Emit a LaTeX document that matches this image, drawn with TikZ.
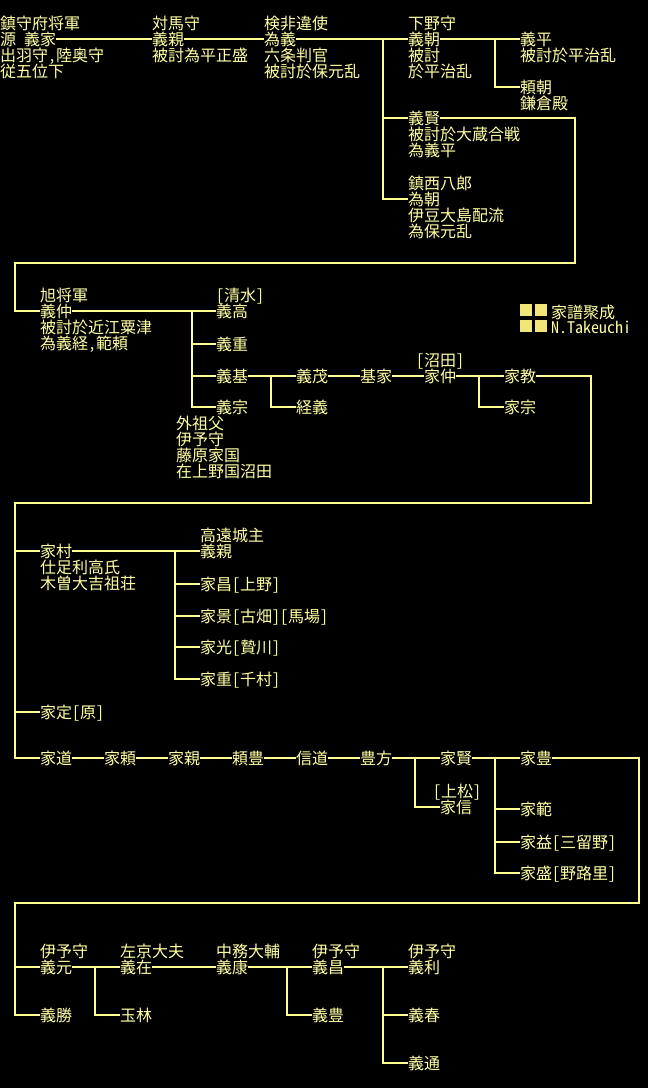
\documentclass[tikz,border=0pt]{standalone}
\usepackage{fontspec}
\newfontfamily\jp[RawFeature=+hwid]{Noto Sans CJK JP}
\definecolor{fg}{RGB}{255,255,165}
\definecolor{lnc}{RGB}{255,255,150}
\definecolor{sqc}{RGB}{242,230,120}
\begin{document}
\begin{tikzpicture}[x=1pt,y=-1pt,
  t/.style={anchor=west,inner sep=0pt,text height=14pt,text depth=2pt,font=\jp\fontsize{16}{16}\selectfont,text=fg},
  link/.style={draw=lnc,line width=2pt,line join=miter},
  sq/.style={fill=sqc}]
\fill[black] (0,0) rectangle (648,1088);
\useasboundingbox (0,0) rectangle (648,1088);

% ---------- row 1
\node[t] (yie) at (0,39) {源\kern8pt義家};
\node[t] (yie1) at (0,23) {鎮守府将軍};
\node[t] (yie2) at (0,55) {出羽守,陸奥守};
\node[t] (yie3) at (0,71) {従五位下};
\node[t] (ych) at (152,39) {義親};
\node[t] (ych1) at (152,23) {対馬守};
\node[t] (ych2) at (152,55) {被討為平正盛};
\node[t] (tyo) at (264,39) {為義};
\node[t] (tyo1) at (264,23) {検非違使};
\node[t] (tyo2) at (264,55) {六条判官};
\node[t] (tyo3) at (264,71) {被討於保元乱};
\node[t] (yto) at (408,39) {義朝};
\node[t] (yto1) at (408,23) {下野守};
\node[t] (yto2) at (408,55) {被討};
\node[t] (yto3) at (408,71) {於平治乱};
\node[t] (yhi) at (520,39) {義平};
\node[t] (yhi1) at (520,55) {被討於平治乱};
\node[t] (yri) at (520,87) {頼朝};
\node[t] (yri1) at (520,103) {鎌倉殿};
\node[t] (yka) at (408,118) {義賢};
\node[t] (yka1) at (408,134) {被討於大蔵合戦};
\node[t] (yka2) at (408,150) {為義平};
\node[t] (tmo) at (408,199) {為朝};
\node[t] (tmo1) at (408,183) {鎮西八郎};
\node[t] (tmo2) at (408,215) {伊豆大島配流};
\node[t] (tmo3) at (408,231) {為保元乱};

\coordinate (b1) at (383,39);
\coordinate (b2) at (495,39);
\coordinate (k1) at (575,118);
\coordinate (k2) at (575,263);
\coordinate (k3) at (15,263);
\coordinate (k4) at (15,311);
\draw[link] (yie.east) -- (ych.west);
\draw[link] (ych.east) -- (tyo.west);
\draw[link] (tyo.east) -- (yto.west);
\draw[link] (b1) |- (yka.west);
\draw[link] (b1) |- (tmo.west);
\draw[link] (yto.east) -- (yhi.west);
\draw[link] (b2) |- (yri.west);

% ---------- row 2
\node[t] (yna) at (40,311) {義仲};
\node[t] (yna1) at (40,295) {旭将軍};
\node[t] (yna2) at (40,327) {被討於近江粟津};
\node[t] (yna3) at (40,343) {為義経,範頼};
\draw[link] (yka.east) -- (k1) -- (k2) -- (k3) -- (k4) -- (yna.west);
\node[t] (yta) at (216,311) {義高};
\node[t] (yta1) at (216,295) {[清水]};
\node[t] (yshi) at (216,344) {義重};
\node[t] (ymo) at (216,376) {義基};
\node[t] (ymu) at (216,407) {義宗};
\node[t] (gs1) at (176,423) {外祖父};
\node[t] (gs2) at (176,439) {伊予守};
\node[t] (gs3) at (176,455) {藤原家国};
\node[t] (gs4) at (176,471) {在上野国沼田};
\node[t] (ysh) at (296,376) {義茂};
\node[t] (tsu) at (296,407) {経義};
\node[t] (mie) at (360,376) {基家};
\node[t] (ina) at (424,376) {家仲};
\node[t] (ina1) at (416,360) {[沼田]};
\node[t] (iki) at (504,376) {家教};
\node[t] (imu) at (504,407) {家宗};

\coordinate (b3) at (192,311);
\coordinate (b4) at (271,376);
\coordinate (b5) at (479,376);
\coordinate (m1) at (591,376);
\coordinate (m2) at (591,503);
\coordinate (m3) at (15,503);
\coordinate (m4) at (15,758);
\coordinate (m5) at (15,551);
\coordinate (m6) at (15,712);
\draw[link] (yna.east) -- (yta.west);
\draw[link] (b3) |- (yshi.west);
\draw[link] (b3) |- (ymo.west);
\draw[link] (b3) |- (ymu.west);
\draw[link] (ymo.east) -- (ysh.west);
\draw[link] (b4) |- (tsu.west);
\draw[link] (ysh.east) -- (mie.west);
\draw[link] (mie.east) -- (ina.west);
\draw[link] (ina.east) -- (iki.west);
\draw[link] (b5) |- (imu.west);

% legend
\fill[sq] (520,304) rectangle (532,316);
\fill[sq] (535,304) rectangle (547,316);
\fill[sq] (520,320) rectangle (532,332);
\fill[sq] (535,320) rectangle (547,332);
\node[t] (lg1) at (551,312) {家譜聚成};
\node[t] (lg2) at (551,327) {N.Takeuchi};

% ---------- row 3
\node[t] (imr) at (40,551) {家村};
\node[t] (imr1) at (40,567) {仕足利高氏};
\node[t] (imr2) at (40,583) {木曽大吉祖荘};
\node[t] (ych2b) at (200,551) {義親};
\node[t] (ych2a) at (200,535) {高遠城主};
\node[t] (ima) at (200,584) {家昌[上野]};
\node[t] (ike) at (200,616) {家景[古畑][馬場]};
\node[t] (imi) at (200,647) {家光[贄川]};
\node[t] (ish) at (200,679) {家重[千村]};
\node[t] (isa) at (40,712) {家定[原]};
\node[t] (imc) at (40,758) {家道};
\node[t] (iyo) at (104,758) {家頼};
\node[t] (ich) at (168,758) {家親};
\node[t] (yto4) at (232,758) {頼豊};
\node[t] (nmi) at (296,758) {信道};
\node[t] (tkt) at (360,758) {豊方};
\node[t] (ikt) at (440,758) {家賢};
\node[t] (inb) at (440,807) {家信};
\node[t] (inb1) at (433,791) {[上松]};
\node[t] (ito) at (520,758) {家豊};
\node[t] (inr) at (520,809) {家範};
\node[t] (ims) at (520,842) {家益[三留野]};
\node[t] (imo) at (520,873) {家盛[野路里]};

\draw[link] (iki.east) -- (m1) -- (m2) -- (m3) -- (m4) -- (imc.west);
\draw[link] (m5) -- (imr.west);
\draw[link] (m6) -- (isa.west);
\coordinate (b6) at (175,551);
\draw[link] (imr.east) -- (ych2b.west);
\draw[link] (b6) |- (ima.west);
\draw[link] (b6) |- (ike.west);
\draw[link] (b6) |- (imi.west);
\draw[link] (b6) |- (ish.west);
\draw[link] (imc.east) -- (iyo.west);
\draw[link] (iyo.east) -- (ich.west);
\draw[link] (ich.east) -- (yto4.west);
\draw[link] (yto4.east) -- (nmi.west);
\draw[link] (nmi.east) -- (tkt.west);
\draw[link] (tkt.east) -- (ikt.west);
\coordinate (b7) at (415,758);
\draw[link] (b7) |- (inb.west);
\draw[link] (ikt.east) -- (ito.west);
\coordinate (b8) at (495,758);
\draw[link] (b8) |- (inr.west);
\draw[link] (b8) |- (ims.west);
\draw[link] (b8) |- (imo.west);

% ---------- row 4
\coordinate (p1) at (639,758);
\coordinate (p2) at (639,903);
\coordinate (p3) at (15,903);
\coordinate (p4) at (15,1015);
\coordinate (p5) at (15,967);
\node[t] (ymt) at (40,967) {義元};
\node[t] (ymt1) at (40,951) {伊予守};
\node[t] (ykt) at (40,1015) {義勝};
\node[t] (yar) at (120,967) {義在};
\node[t] (yar1) at (120,951) {左京大夫};
\node[t] (grn) at (120,1015) {玉林};
\node[t] (yys) at (216,967) {義康};
\node[t] (yys1) at (216,951) {中務大輔};
\node[t] (yms) at (312,967) {義昌};
\node[t] (yms1) at (312,951) {伊予守};
\node[t] (ytt) at (312,1015) {義豊};
\node[t] (ytsh) at (408,967) {義利};
\node[t] (ytsh1) at (408,951) {伊予守};
\node[t] (yhr) at (408,1015) {義春};
\node[t] (ymc) at (408,1063) {義通};

\draw[link] (ito.east) -- (p1) -- (p2) -- (p3) -- (p4) -- (ykt.west);
\draw[link] (p5) -- (ymt.west);
\coordinate (b9) at (95,967);
\coordinate (b10) at (287,967);
\coordinate (b11) at (383,967);
\draw[link] (ymt.east) -- (yar.west);
\draw[link] (b9) |- (grn.west);
\draw[link] (yar.east) -- (yys.west);
\draw[link] (yys.east) -- (yms.west);
\draw[link] (b10) |- (ytt.west);
\draw[link] (yms.east) -- (ytsh.west);
\draw[link] (b11) |- (yhr.west);
\draw[link] (b11) |- (ymc.west);
\end{tikzpicture}
\end{document}
